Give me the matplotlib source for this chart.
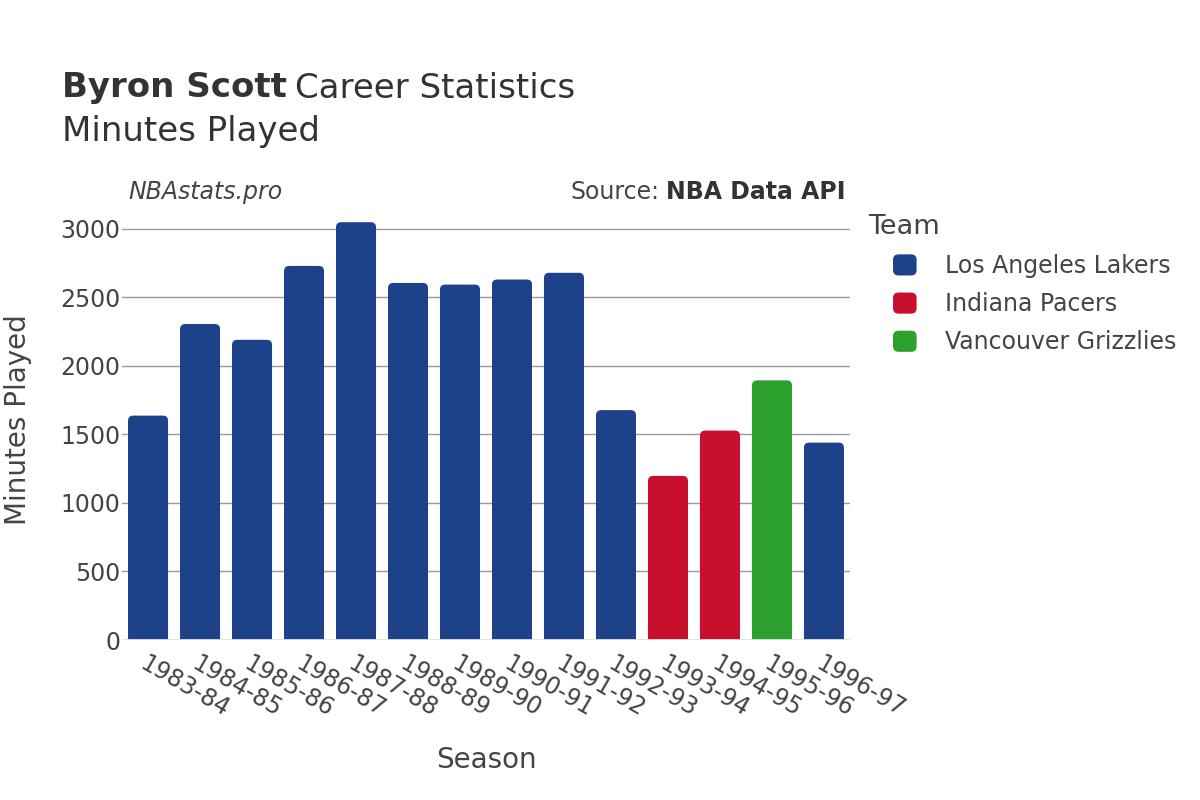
import numpy as np
import matplotlib.pyplot as plt
from matplotlib.patches import FancyBboxPatch, Patch
from matplotlib.legend_handler import HandlerPatch

seasons = ['1983-84', '1984-85', '1985-86', '1986-87', '1987-88', '1988-89', '1989-90',
           '1990-91', '1991-92', '1992-93', '1993-94', '1994-95', '1995-96', '1996-97']
minutes = [1637, 2305, 2190, 2729, 3048, 2605, 2593, 2630, 2679, 1677, 1197, 1528, 1894, 1440]
teams = ['Los Angeles Lakers'] * 10 + ['Indiana Pacers'] * 2 + ['Vancouver Grizzlies', 'Los Angeles Lakers']
team_names = ['Los Angeles Lakers', 'Indiana Pacers', 'Vancouver Grizzlies']
team_colors = {'Los Angeles Lakers': '#1D428A', 'Indiana Pacers': '#C8102E',
               'Vancouver Grizzlies': '#2CA02C'}

plt.rcParams['font.family'] = ['DejaVu Sans']
txt = '#444444'

fig = plt.figure(figsize=(12, 8), dpi=100)
ax = fig.add_axes([0.1017, 0.2, 0.6066, 0.55])

x = np.arange(len(seasons))
ymax = 3210
ax.set_xlim(-0.5, len(seasons) - 0.5)
ax.set_ylim(0, ymax)

bars = ax.bar(x, minutes, width=0.77, color=[team_colors[t] for t in teams])
# swap plain bars for rounded ones
bb = ax.get_position()
px_x = (len(seasons)) / (bb.width * 1200)
px_y = ymax / (bb.height * 800)
aspect = px_y / px_x
for b in bars:
    bx, bw, bh = b.get_x(), b.get_width(), b.get_height()
    col = b.get_facecolor()
    b.remove()
    ax.add_patch(FancyBboxPatch((bx, -60), bw, bh + 60,
                                boxstyle='round,pad=0,rounding_size=0.1',
                                mutation_aspect=aspect, facecolor=col,
                                edgecolor='none', zorder=2))

ax.set_yticks(range(0, 3001, 500))
ax.yaxis.grid(True, color='#9a9a9a', linewidth=1)
ax.set_axisbelow(True)
ax.axhline(0, color='#E0E4EE', linewidth=2, zorder=3)
for s in ax.spines.values():
    s.set_visible(False)
ax.tick_params(axis='both', length=0, labelsize=17, labelcolor=txt)
ax.tick_params(axis='y', pad=1)
ax.set_xticks(x)
ax.set_xticklabels(seasons, rotation=-30, ha='left', va='top', rotation_mode='anchor')
ax.tick_params(axis='x', pad=8)

fig.text(486 / 1200, 1 - 760 / 800, 'Season', fontsize=20, color=txt, ha='center', va='center')
fig.text(18 / 1200, 1 - 420 / 800, 'Minutes Played', fontsize=20, color=txt, ha='center',
         va='center', rotation=90)

fs_t = 24.5
t1 = fig.text(0.052, 0.89, 'Byron Scott', fontsize=fs_t, color='#333333', va='center',
              fontweight='bold')
fig.canvas.draw()
ext = t1.get_window_extent()
fig.text((ext.x1 + 8) / 1200, 0.89, 'Career Statistics', fontsize=fs_t, color='#333333',
         va='center')
fig.text(0.052, 0.835, 'Minutes Played', fontsize=fs_t, color='#333333', va='center')

fig.text(0.107, 0.76, 'NBAstats.pro', fontsize=17, color=txt, style='italic', va='center')
t2 = fig.text(0.705, 0.76, 'NBA Data API', fontsize=17, color='#333333', fontweight='bold',
              va='center', ha='right')
fig.canvas.draw()
e2 = t2.get_window_extent()
fig.text((e2.x0 - 7) / 1200, 0.76, 'Source:', fontsize=17, color=txt, va='center', ha='right')


def rounded(xdescent, ydescent, width, height, fontsize, **kw):
    return FancyBboxPatch((-xdescent, -ydescent), width, height,
                          boxstyle='round,pad=0,rounding_size=4')


fig.text(868 / 1200, 1 - 227 / 800, 'Team', fontsize=19.5, color=txt, va='center')
handles = [Patch(facecolor=team_colors[t], edgecolor='none') for t in team_names]
leg = fig.legend(handles, team_names, loc='upper left', bbox_to_anchor=(893 / 1200, 1 - 254 / 800),
                 frameon=False, fontsize=17, handlelength=1.0, handleheight=1.0,
                 handletextpad=1.2, labelspacing=0.6, borderaxespad=0, borderpad=0,
                 handler_map={Patch: HandlerPatch(patch_func=rounded)})
for t in leg.get_texts():
    t.set_color(txt)

fig.savefig('out.png', dpi=100, facecolor='white')
